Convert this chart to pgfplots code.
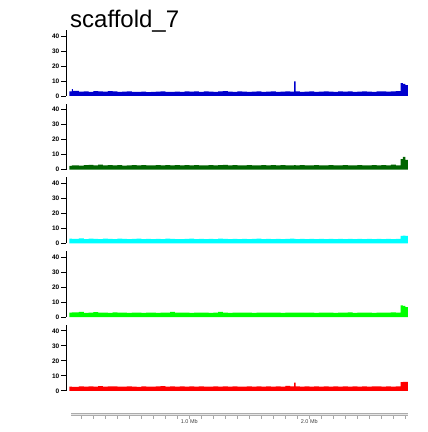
\documentclass[border=0pt]{standalone}
\usepackage{fontspec}
\setmainfont{Liberation Sans}
\usepackage{pgfplots}
\usepackage{pgfplotstable}
\pgfplotsset{compat=1.18}
\pgfplotstableread{
x a b c d e
0.00 3.0 2.6 3.2 2.9 2.8
0.02 4.6 2.9 3.0 3.1 2.6
0.03 3.4 2.9 3.0 3.1 2.6
0.08 2.9 2.7 3.3 3.4 3.0
0.12 3.1 3.0 2.9 2.8 2.7
0.16 2.8 3.2 3.1 3.0 2.9
0.20 3.2 2.8 3.0 3.3 2.8
0.24 3.0 3.3 2.8 2.9 3.1
0.28 2.9 2.9 3.2 3.0 2.7
0.32 3.3 3.1 3.0 2.8 2.9
0.36 3.0 2.8 2.9 3.1 3.0
0.40 2.8 3.0 3.1 2.9 2.8
0.44 2.9 2.7 3.0 3.0 2.7
0.48 3.1 2.9 2.8 2.8 2.9
0.52 2.8 3.0 3.0 2.9 2.8
0.56 2.7 2.8 3.2 3.0 2.6
0.60 2.9 3.0 2.9 2.8 2.9
0.64 2.6 2.9 3.0 2.9 2.7
0.68 2.8 2.8 2.8 3.0 2.8
0.72 2.9 3.1 3.0 2.8 2.9
0.76 3.0 2.9 2.9 3.0 3.1
0.80 2.8 3.0 3.1 2.9 2.8
0.84 2.7 2.8 3.0 3.4 2.9
0.88 2.9 3.0 2.8 3.0 2.8
0.92 2.8 2.9 2.9 2.9 2.9
0.96 3.0 3.1 3.0 3.0 2.8
1.00 2.9 2.8 3.2 2.8 3.0
1.04 3.1 3.0 2.9 3.0 2.8
1.08 2.8 2.9 3.0 2.9 2.9
1.12 3.0 2.8 2.8 3.0 2.7
1.16 2.9 3.0 3.0 2.8 2.8
1.20 2.8 2.9 2.9 2.9 3.0
1.24 3.0 3.0 3.1 3.5 2.8
1.28 3.2 3.2 3.0 3.0 2.9
1.32 2.9 2.9 2.9 2.8 2.8
1.36 2.8 3.0 3.0 2.9 2.9
1.40 3.0 2.8 2.8 3.0 2.7
1.44 2.9 2.9 3.0 2.9 2.8
1.48 2.8 3.0 2.9 3.0 2.9
1.52 2.9 2.8 3.0 2.8 2.8
1.56 3.0 2.9 3.1 3.0 2.9
1.60 2.8 3.0 2.9 2.9 2.8
1.64 2.9 2.8 3.0 3.0 3.0
1.68 3.0 3.1 2.8 2.9 2.8
1.72 2.8 2.9 3.0 3.0 2.9
1.76 2.9 3.0 2.9 2.8 2.8
1.80 3.0 2.8 3.0 2.9 3.2
1.84 2.9 2.9 3.1 3.0 2.9
1.872 9.7 3.0 3.0 3.0 5.5
1.886 3.0 2.9 2.9 2.9 2.9
1.92 2.8 3.0 3.0 3.0 2.8
1.96 2.9 2.8 2.8 2.9 2.9
2.00 3.0 2.9 3.0 3.0 2.8
2.04 2.8 3.0 2.9 2.8 2.9
2.08 2.9 2.8 3.0 3.0 2.8
2.12 3.0 2.9 2.8 2.9 2.9
2.16 2.9 3.0 3.0 3.0 2.8
2.20 2.8 2.8 2.9 2.8 2.9
2.24 3.0 2.9 3.0 3.0 2.8
2.28 2.9 3.0 2.8 2.9 2.9
2.32 3.0 2.8 3.0 3.2 2.8
2.36 2.8 2.9 2.9 2.8 2.9
2.40 2.9 3.0 3.0 3.0 2.8
2.44 3.0 2.9 2.8 2.9 2.9
2.48 2.9 2.8 3.0 3.0 2.8
2.52 2.8 3.0 2.9 2.8 2.9
2.56 3.0 2.9 3.0 3.0 3.0
2.60 3.1 3.0 2.8 2.9 2.8
2.64 2.9 2.8 3.0 3.0 2.9
2.68 3.0 3.4 2.9 3.2 2.8
2.72 3.2 2.9 3.0 3.0 2.9
2.76 8.5 7.0 5.0 7.8 5.8
2.78 8.0 8.6 5.2 7.5 6.0
2.80 7.3 6.5 5.0 6.6 6.0
2.82 7.3 6.5 5.0 6.6 6.0
}\covdata
\definecolor{trkA}{RGB}{0,0,205}
\definecolor{trkB}{RGB}{0,100,0}
\definecolor{trkC}{RGB}{0,255,255}
\definecolor{trkD}{RGB}{0,255,0}
\definecolor{trkE}{RGB}{255,0,0}
\pgfplotsset{
  track/.style={
    scale only axis, width=341.8pt, height=66pt,
    anchor=south west,
    xmin=-0.028, xmax=2.82, ymin=0, ymax=44,
    axis x line=none, axis y line*=left,
    axis line style={-, black, line width=0.8pt},
    ytick={0,10,20,30,40},
    tick align=outside, major tick length=5pt,
    y tick style={black, line width=0.8pt},
    yticklabel style={font=\fontsize{6.5}{7}\selectfont\bfseries, inner sep=1.5pt},
    /pgf/number format/assume math mode=true,
    clip=false,
  }
}
\begin{document}
\begin{tikzpicture}[x=1pt,y=1pt]
\useasboundingbox (0,0) rectangle (428,432);
\node[anchor=base west, inner sep=0pt, font=\fontsize{24}{28}\selectfont] at (70,404) {scaffold\_7};
\begin{axis}[track, at={(66pt,336pt)}]
\addplot[fill=trkA, draw=none, const plot] table[x=x,y=a]{\covdata} \closedcycle;
\end{axis}
\begin{axis}[track, at={(66pt,262.3pt)}]
\addplot[fill=trkB, draw=none, const plot] table[x=x,y=b]{\covdata} \closedcycle;
\end{axis}
\begin{axis}[track, at={(66pt,188.6pt)}]
\addplot[fill=trkC, draw=none, const plot] table[x=x,y=c]{\covdata} \closedcycle;
\end{axis}
\begin{axis}[track, at={(66pt,114.9pt)}]
\addplot[fill=trkD, draw=none, const plot] table[x=x,y=d]{\covdata} \closedcycle;
\end{axis}
\begin{axis}[track, at={(66pt,41.2pt)}]
\addplot[fill=trkE, draw=none, const plot] table[x=x,y=e]{\covdata} \closedcycle;
\end{axis}
% genome axis
\begin{axis}[
  scale only axis, width=336.7pt, height=5pt,
  anchor=south west, at={(71pt,17.5pt)},
  xmin=0.014, xmax=2.82, ymin=0, ymax=1,
  axis y line=none, axis x line*=bottom,
  axis line style={-, draw=gray!65, double=gray!20, double distance=1.2pt, line width=0.6pt},
  xtick={1,2}, xticklabels={1.0 Mb, 2.0 Mb},
  minor xtick={0.1,0.2,...,2.8},
  tick align=outside, major tick length=4pt, minor tick length=4pt,
  x tick style={gray!70, line width=0.7pt},
  xticklabel style={font=\fontsize{5.5}{6}\selectfont, text=black!75, inner sep=1pt},
  /pgf/number format/assume math mode=true,
]
\addplot[draw=none] coordinates {(1,0.5)};
\end{axis}
\end{tikzpicture}
\end{document}
